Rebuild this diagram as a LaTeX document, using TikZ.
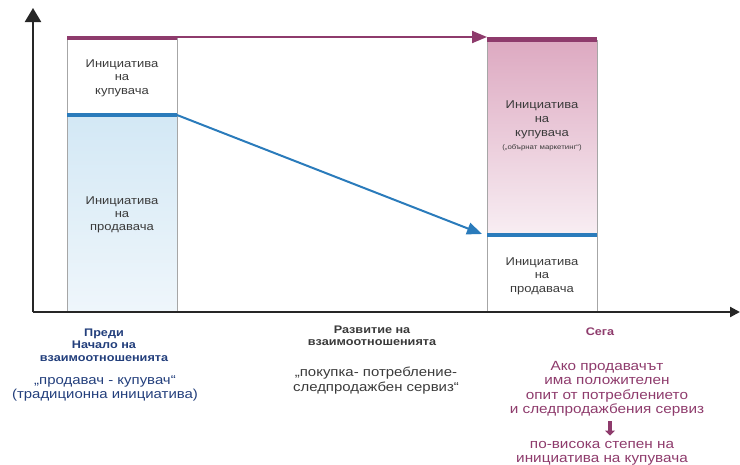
\documentclass[tikz,border=0pt]{standalone}
\usepackage{fontspec}
\setmainfont[FakeStretch=1.15]{Liberation Sans}
\usetikzlibrary{arrows.meta}
\definecolor{plum}{HTML}{8E3B6C}
\definecolor{steel}{HTML}{2A7BBB}
\definecolor{navy}{HTML}{233F7C}
\definecolor{ink}{HTML}{3A3A3A}
\definecolor{pinktop}{HTML}{DDA9C1}
\definecolor{pinkbot}{HTML}{F8EEF3}
\definecolor{bluetop}{HTML}{D3E8F5}
\definecolor{bluebot}{HTML}{EFF6FB}
\begin{document}
\begin{tikzpicture}[x=1pt,y=-1pt]
\useasboundingbox (0,0) rectangle (740,464);
% bars
\shade[top color=bluetop, bottom color=bluebot] (67,115) rectangle (177,312);
\shade[top color=pinktop, bottom color=pinkbot] (487,40) rectangle (597,235);
\draw[gray!70, line width=0.8pt] (67,37) -- (67,312) (177,37) -- (177,312);
\draw[gray!70, line width=0.8pt] (487,40) -- (487,312) (597,40) -- (597,312);
\draw[plum, line width=4pt] (67,38) -- (177,38);
\draw[plum, line width=5pt] (487,39) -- (597,39);
\draw[steel, line width=3.5pt] (67,115) -- (177,115);
\draw[steel, line width=3.5pt] (487,235) -- (597,235);
% axes
\coordinate (O) at (33,312);
\coordinate (Y) at (33,8);
\coordinate (X) at (740,312);
\draw[black!85, line width=2.2pt, -{Triangle[length=14pt,width=16pt]}] (O) -- (Y);
\draw[black!85, line width=2.2pt, -{Triangle[length=10pt,width=10pt]}] (O) -- (X);
% arrows
\coordinate (bt) at (177,37);
\coordinate (nt) at (487,37);
\coordinate (bs) at (177,115);
\coordinate (ns) at (482,234);
\draw[plum, line width=2pt, -{Triangle[length=15pt,width=12pt]}] (bt) -- (nt);
\draw[steel, line width=2pt, -{Triangle[length=15pt,width=12pt]}] (bs) -- (ns);
% bar texts
\node[align=center, font=\fontsize{11.3}{13.5}\selectfont, text=ink] (buy1) at (122,78) {Инициатива\\на\\купувача};
\node[align=center, font=\fontsize{11.3}{13}\selectfont, text=ink] (sell1) at (122,215) {Инициатива\\на\\продавача};
\node[align=center, font=\fontsize{11.3}{14}\selectfont, text=ink] (buy2) at (542,126) {Инициатива\\на\\купувача\\[-1pt]{\fontsize{6.8}{8}\selectfont(„обърнат маркетинг“)}};
\node[align=center, font=\fontsize{11.3}{13.5}\selectfont, text=ink] (sell2) at (542,276) {Инициатива\\на\\продавача};
% labels
\node[align=center, font=\bfseries\fontsize{11}{12.5}\selectfont, text=navy] (before) at (104,345) {Преди\\Начало на\\взаимоотношенията};
\node[align=center, font=\fontsize{13}{14}\selectfont, text=navy] (trad) at (105,388) {„продавач - купувач“\\(традиционна инициатива)};
\node[align=center, font=\bfseries\fontsize{11}{12.5}\selectfont, text=ink] (dev) at (372,336) {Развитие на\\взаимоотношенията};
\node[align=center, font=\fontsize{13}{15}\selectfont, text=ink] (cycle) at (376,381) {„покупка- потребление-\\следпродажбен сервиз“};
\node[font=\bfseries\fontsize{11}{12.5}\selectfont, text=plum] (now) at (600,332) {Сега};
\node[align=center, font=\fontsize{13.3}{14.5}\selectfont, text=plum] (cond) at (607,389) {Ако продавачът\\има положителен\\опит от потреблението\\и следпродажбения сервиз};
\node[align=center, font=\fontsize{13.3}{14}\selectfont, text=plum] (res) at (602,453) {по-висока степен на\\инициатива на купувача};
\coordinate (tip) at (610,0);
\draw[plum, line width=4pt, shorten <=1pt, shorten >=2pt, -{Triangle[length=5pt,width=10pt]}] (cond.south -| tip) -- (res.north -| tip);
\end{tikzpicture}
\end{document}
